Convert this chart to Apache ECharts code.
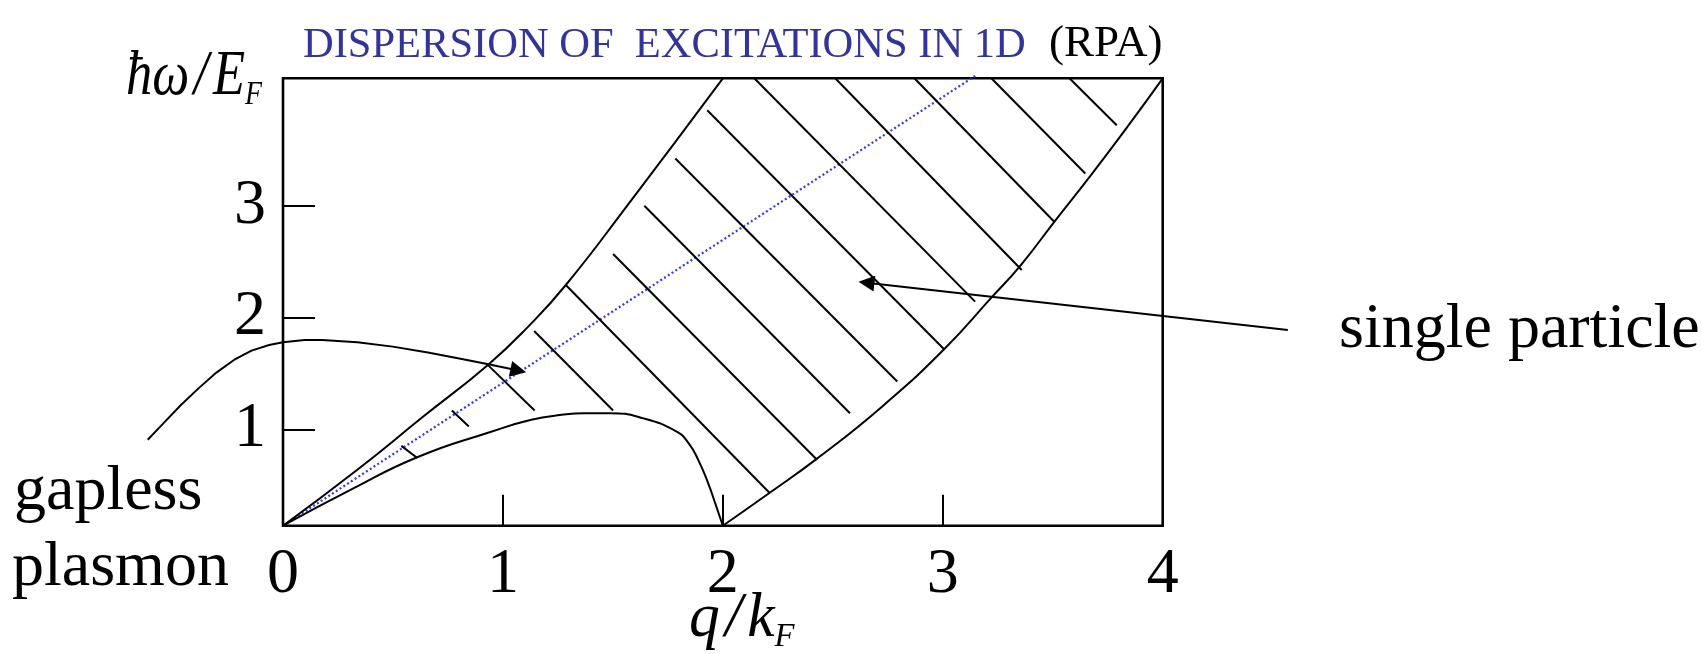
<!DOCTYPE html>
<html>
<head>
<meta charset="utf-8">
<script src="https://cdn.jsdelivr.net/npm/echarts@6/dist/echarts.min.js"></script>
<style>
  html, body { margin: 0; padding: 0; background: #fff; }
  #chart { width: 1702px; height: 654px; }
</style>
</head>
<body>
<div id="chart"></div>
<script>
// Axis ticks and labels
const xTickLabels = [0, 1, 2, 3, 4];
const xTickMarks = [1, 2, 3];
const yTickLabels = [1, 2, 3];

// Upper edge of the particle-hole continuum, q/kF -> hbar*omega/EF
const upperEdge = [
  [0, 0.14], [0.338, 0.640], [0.635, 1.111], [0.933, 1.580], [1.115, 1.920],
  [1.286, 2.292], [1.561, 2.991], [2.0, 4.14]
];
// Lower edge below 2kF (dome)
const lowerDome = [
  [0, 0.14], [0.309, 0.462], [0.613, 0.754], [0.950, 0.982], [1.129, 1.087],
  [1.267, 1.131], [1.368, 1.146], [1.487, 1.146], [1.635, 1.102], [1.790, 0.982],
  [1.844, 0.879], [1.888, 0.729], [1.933, 0.521], [1.970, 0.313], [2.0, 0.14]
];
// Lower edge above 2kF
const lowerEdge = [
  [2.0, 0.14], [2.210, 0.430], [2.428, 0.740], [2.721, 1.200], [3.006, 1.718],
  [3.221, 2.179], [3.355, 2.470], [3.507, 2.857], [3.680, 3.290], [3.841, 3.710],
  [4.0, 4.14]
];
// Leader curve from the "gapless plasmon" label
const plasmonLeader = [
  [-0.615, 0.908], [-0.543, 1.057], [-0.463, 1.221], [-0.383, 1.370], [-0.303, 1.509],
  [-0.223, 1.622], [-0.143, 1.705], [-0.063, 1.756], [0, 1.780], [0.098, 1.801],
  [0.178, 1.801], [0.338, 1.780], [0.499, 1.741], [0.659, 1.688], [0.819, 1.629],
  [0.934, 1.584]
];
const plasmonArrow = [[0.934, 1.584], [1.070, 1.527]];
// Arrow from the "single particle" label into the continuum
const particleArrow = [[4.569, 1.890], [2.653, 2.3125]];
// Dotted straight line through the origin
const freeLine = [[0, 0.14], [3.154, 4.170]];
// Hatching of the continuum: [start, end] of each stroke
const hatchLines = [
  [[0.538, 0.854], [0.611, 0.745]],
  [[0.768, 1.170], [0.845, 1.027]],
  [[0.931, 1.578], [1.144, 1.170]],
  [[1.142, 1.881], [1.501, 1.170]],
  [[1.286, 2.292], [2.213, 0.432]],
  [[1.501, 2.569], [2.428, 0.729]],
  [[1.643, 3.000], [2.578, 1.146]],
  [[1.784, 3.423], [2.793, 1.429]],
  [[1.929, 3.854], [3.006, 1.718]],
  [[2.143, 4.14], [3.147, 2.143]],
  [[2.511, 4.14], [3.359, 2.426]],
  [[2.871, 4.14], [3.507, 2.857]],
  [[3.221, 4.14], [3.648, 3.289]],
  [[3.576, 4.14], [3.791, 3.721]]
];

const SERIF = 'Liberation Serif, Times New Roman, serif';
const curveStyle = { color: '#000', width: 2 };

function plainText(text, left, top, size, color) {
  return {
    text: text, left: left, top: top, padding: 0,
    textStyle: { fontFamily: SERIF, fontSize: size, fontWeight: 'normal', color: color || '#000' }
  };
}
// Italic ratio such as "hbar omega / E_F" with a lowered subscript
function ratioLabel(parts, sub, x, y, scaleX) {
  const text = parts.map(function (p) { return p === ' ' ? '{g|\u00a0}' : '{v|' + p + '}'; }).join('') +
    '{s|' + sub + '}';
  return {
    type: 'text', x: x, y: y, scaleX: scaleX, silent: true,
    style: {
      text: text, x: 0, y: 0, align: 'left', verticalAlign: 'top',
      rich: {
        v: { fontFamily: SERIF, fontStyle: 'italic', fontWeight: 'normal', fontSize: 64, lineHeight: 70, fill: '#000' },
        g: { fontFamily: SERIF, fontSize: 22, lineHeight: 70, fill: '#000' },
        s: { fontFamily: SERIF, fontStyle: 'italic', fontWeight: 'normal', fontSize: 34, lineHeight: 30, verticalAlign: 'bottom', fill: '#000' }
      }
    }
  };
}

const chart = echarts.init(document.getElementById('chart'), null, { renderer: 'canvas' });
chart.setOption({
  animation: false,
  backgroundColor: '#fff',
  title: [
    plainText('DISPERSION OF  EXCITATIONS IN 1D', 303, 24, 42.5, '#333399'),
    plainText('(RPA)', 1049, 22, 45),
    plainText('gapless', 14, 460, 64),
    plainText('plasmon', 12, 536, 64),
    plainText('single particle', 1339, 298, 64)
  ],
  graphic: [
    ratioLabel(['ħω', ' ', '/', ' ', 'E'], 'F', 126, 42, 0.82),
    ratioLabel(['q', ' ', '/', ' ', 'k'], 'F', 689, 584, 0.96)
  ],
  grid: {
    left: 283, right: 539.3, top: 78.3, bottom: 128.3,
    show: true, borderColor: '#000', borderWidth: 2.6, backgroundColor: 'transparent'
  },
  xAxis: {
    type: 'value', min: 0, max: 4,
    axisLine: { show: false },
    splitLine: { show: false },
    axisTick: {
      show: true, inside: true, length: 31, customValues: xTickMarks,
      lineStyle: { color: '#000', width: 2 }
    },
    axisLabel: {
      customValues: xTickLabels, margin: 17,
      fontFamily: SERIF, fontSize: 64, color: '#000'
    }
  },
  yAxis: {
    type: 'value', min: 0.14, max: 4.14,
    axisLine: { show: false },
    splitLine: { show: false },
    axisTick: {
      show: true, inside: true, length: 32, customValues: yTickLabels,
      lineStyle: { color: '#000', width: 2 }
    },
    axisLabel: {
      customValues: yTickLabels, margin: 17,
      fontFamily: SERIF, fontSize: 64, color: '#000'
    }
  },
  series: [
    {
      name: 'free line', type: 'line', data: freeLine, showSymbol: false, clip: false,
      lineStyle: { color: '#3636f0', width: 2.2, type: [2, 2.5] }, z: 1
    },
    {
      name: 'upper edge', type: 'line', data: upperEdge, showSymbol: false,
      smooth: 0.5, lineStyle: curveStyle, z: 3
    },
    {
      name: 'lower edge q<2', type: 'line', data: lowerDome, showSymbol: false,
      smooth: 0.5, lineStyle: curveStyle, z: 3
    },
    {
      name: 'lower edge q>2', type: 'line', data: lowerEdge, showSymbol: false,
      smooth: 0.5, lineStyle: curveStyle, z: 3
    },
    {
      name: 'plasmon leader', type: 'lines', coordinateSystem: 'cartesian2d', polyline: true,
      silent: true, clip: false,
      data: [{ coords: plasmonLeader }],
      lineStyle: { color: '#000', width: 2, opacity: 1, join: 'round' }, z: 3
    },
    {
      name: 'hatching', type: 'lines', coordinateSystem: 'cartesian2d', silent: true,
      data: hatchLines.map(function (c) { return { coords: c }; }),
      lineStyle: { color: '#000', width: 2, opacity: 1 }, z: 2
    },
    {
      name: 'arrows', type: 'lines', coordinateSystem: 'cartesian2d', silent: true, clip: false,
      symbol: ['none', 'triangle'], symbolSize: [15, 16], symbolOffset: [0, 8],
      data: [{ coords: plasmonArrow }, { coords: particleArrow }],
      lineStyle: { color: '#000', width: 2, opacity: 1 },
      itemStyle: { color: '#000' }, z: 4
    }
  ]
});
</script>
</body>
</html>
